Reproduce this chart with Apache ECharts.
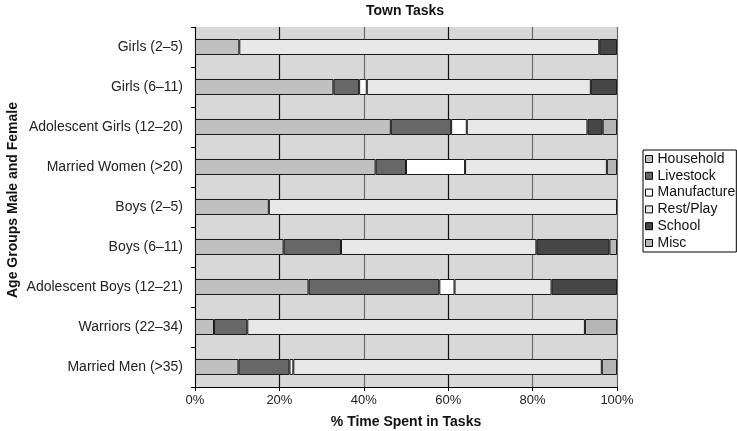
<!DOCTYPE html>
<html>
<head>
<meta charset="utf-8">
<script src="https://cdn.jsdelivr.net/npm/echarts@6/dist/echarts.min.js"></script>
<style>
  html, body { margin: 0; padding: 0; background: #fff; }
  #chart { width: 737px; height: 431px; }
</style>
</head>
<body>
<div id="chart"></div>
<script>
// Age groups, top to bottom
const groups = [
  'Girls (2–5)', 'Girls (6–11)', 'Adolescent Girls (12–20)', 'Married Women (>20)',
  'Boys (2–5)', 'Boys (6–11)', 'Adolescent Boys (12–21)', 'Warriors (22–34)', 'Married Men (>35)'
];

// Share of time (%) per task, one value per age group
const household   = [10.5, 32.8, 46.4, 42.8, 17.5, 21.0, 26.9, 4.5, 10.3];
const livestock   = [0,    6.1,  14.3, 7.2,  0,    13.6, 31.0, 7.9, 12.1];
const manufacture = [0,    1.8,  3.7,  14.0, 0,    0,    3.6,  0,   0.9];
const restPlay    = [85.3, 53.1, 28.6, 33.6, 82.5, 46.3, 23.0, 80.0, 73.1];
const school      = [4.2,  6.2,  3.6,  0,    0,    17.3, 15.5, 0,   0];
const misc        = [0,    0,    3.4,  2.4,  0,    1.8,  0,    7.6, 3.6];

const taskNames = ['Household', 'Livestock', 'Manufacture', 'Rest/Play', 'School', 'Misc'];
const taskData = [household, livestock, manufacture, restPlay, school, misc];
const taskColors = ['#c0c0c0', '#676767', '#ffffff', '#e8e8e8', '#464646', '#b6b6b6'];

const font = "'Liberation Sans', Arial, Helvetica, sans-serif";

const chart = echarts.init(document.getElementById('chart'), null, { renderer: 'canvas' });

chart.setOption({
  animation: false,
  backgroundColor: '#ffffff',
  title: {
    text: 'Town Tasks',
    left: 366, top: 4,
    padding: 0,
    textStyle: { fontFamily: font, fontSize: 14, fontWeight: 'bold', color: '#111' }
  },
  legend: {
    orient: 'vertical',
    left: 643, top: 150,
    padding: [2, 1, 2, 2],
    itemGap: 2.8,
    itemWidth: 7, itemHeight: 7,
    borderColor: '#000', borderWidth: 1,
    textStyle: { fontFamily: font, fontSize: 14, lineHeight: 14, color: '#111' },
    data: taskNames.map((n, i) => ({
      name: n,
      icon: 'rect',
      itemStyle: { color: taskColors[i], borderColor: '#000', borderWidth: 1 }
    }))
  },
  grid: {
    left: 195, right: 120, top: 27, bottom: 44,
    containLabel: false,
    outerBoundsMode: 'none',
    show: true, backgroundColor: '#d8d8d8', borderWidth: 0
  },
  xAxis: {
    type: 'value',
    min: 0, max: 100, interval: 20,
    name: '% Time Spent in Tasks',
    nameLocation: 'middle',
    nameGap: 28,
    nameMoveOverlap: false,
    nameTextStyle: { fontFamily: font, fontSize: 14, fontWeight: 'bold', color: '#111' },
    axisLine: { show: true, lineStyle: { color: '#000', width: 1 } },
    axisTick: { show: true, length: 4, lineStyle: { color: '#000' } },
    axisLabel: { formatter: '{value}%', fontFamily: font, fontSize: 13, color: '#222', margin: 7 },
    splitLine: { show: true, lineStyle: { color: ['#555', '#111', '#6a6a6a', '#111', '#6a6a6a', '#666'], width: 1.2 } }
  },
  yAxis: {
    type: 'category',
    data: groups,
    inverse: true,
    name: 'Age Groups Male and Female',
    nameLocation: 'middle',
    nameRotate: 90,
    nameGap: 175,
    nameMoveOverlap: false,
    nameTextStyle: { fontFamily: font, fontSize: 14, fontWeight: 'bold', color: '#111', padding: [0, 0, 0, 14] },
    axisLine: { show: true, lineStyle: { color: '#000', width: 1 } },
    axisTick: { show: true, length: 4, lineStyle: { color: '#000' } },
    axisLabel: { fontFamily: font, fontSize: 14, color: '#222', margin: 12 },
    splitLine: { show: false }
  },
  series: taskNames.map((n, i) => ({
    name: n,
    type: 'bar',
    stack: 'tasks',
    barWidth: '40%',
    // empty segments are left out so they leave no border stroke
    data: taskData[i].map(v => (v === 0 ? '-' : v)),
    itemStyle: { color: taskColors[i], borderColor: '#1a1a1a', borderWidth: 1 }
  }))
});
</script>
</body>
</html>
